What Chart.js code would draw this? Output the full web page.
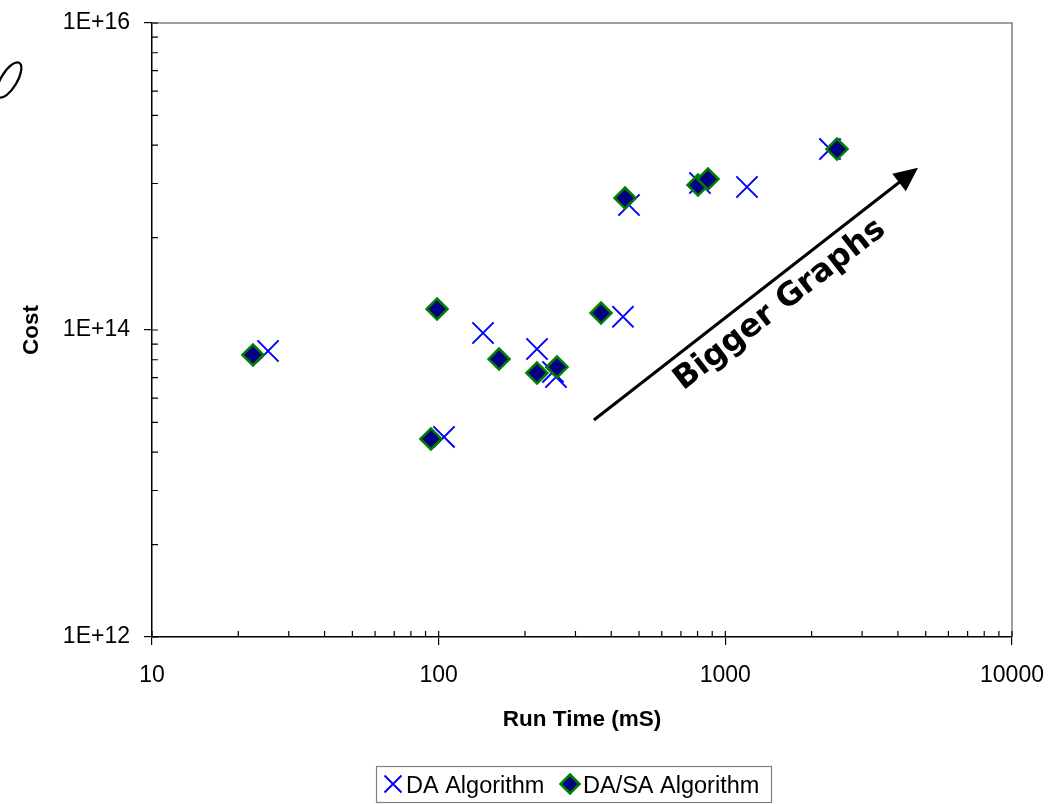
<!DOCTYPE html>
<html>
<head>
<meta charset="utf-8">
<script src="https://cdn.jsdelivr.net/npm/chart.js@4.4.1/dist/chart.umd.min.js"></script>
<style>
  html, body { margin: 0; padding: 0; background: #ffffff; }
  #wrap { width: 1063px; height: 804px; position: relative; }
</style>
</head>
<body>
<div id="wrap"><canvas id="c" width="1063" height="804"></canvas></div>
<script>
// ---- data ----
const seriesNames = ['DA Algorithm', 'DA/SA Algorithm'];

const daRunTime = [25.4, 104.4, 142.8, 220.3, 250.5, 256.6, 439.5, 461.3, 815.7, 1190, 2318];
const daCost    = [7.30e13, 2.01e13, 9.56e13, 7.52e13, 5.33e13, 4.94e13, 1.22e14, 6.52e14, 9.07e14, 8.54e14, 1.51e15];

const dasaRunTime = [22.5, 94.0, 98.7, 162.4, 220.3, 258.7, 368.4, 446.7, 802.8, 869.9, 2452];
const dasaCost    = [6.88e13, 1.95e13, 1.37e14, 6.47e13, 5.25e13, 5.74e13, 1.29e14, 7.24e14, 8.80e14, 9.63e14, 1.51e15];

const xTicks      = [10, 100, 1000, 10000];
const xTickLabels = ['10', '100', '1000', '10000'];
const xMinorTicks = [20,30,40,50,60,70,80,90, 200,300,400,500,600,700,800,900, 2000,3000,4000,5000,6000,7000,8000,9000];

const yTicks      = [1e12, 1e14, 1e16];
const yTickLabels = ['1E+12', '1E+14', '1E+16'];
const yMinorTicks = [4e12, 9e12, 1.6e13, 2.5e13, 3.6e13, 4.9e13, 6.4e13, 8.1e13,
                     4e14, 9e14, 1.6e15, 2.5e15, 3.6e15, 4.9e15, 6.4e15, 8.1e15];

const xTitle = 'Run Time (mS)';
const yTitle = 'Cost';

const annotationText = 'Bigger Graphs';
const arrowFrom  = [348, 2.59e13];
const arrowTo    = [4700, 1.14e15];
const textAnchor = [1551, 1.455e14];

// ---- helpers ----
function toPoints(xs, ys) { return xs.map((v, i) => ({ x: v, y: ys[i] })); }

function drawCross(ctx, cx, cy, r, color, lw) {
  ctx.save();
  ctx.strokeStyle = color; ctx.lineWidth = lw;
  ctx.beginPath();
  ctx.moveTo(cx - r, cy - r); ctx.lineTo(cx + r, cy + r);
  ctx.moveTo(cx - r, cy + r); ctx.lineTo(cx + r, cy - r);
  ctx.stroke();
  ctx.restore();
}
function drawDiamond(ctx, cx, cy, r, fill, stroke, lw) {
  ctx.save();
  ctx.beginPath();
  ctx.moveTo(cx, cy - r); ctx.lineTo(cx + r, cy); ctx.lineTo(cx, cy + r); ctx.lineTo(cx - r, cy); ctx.closePath();
  ctx.fillStyle = fill; ctx.fill();
  ctx.strokeStyle = stroke; ctx.lineWidth = lw; ctx.stroke();
  ctx.restore();
}

const decor = {
  id: 'decor',
  beforeDatasetsDraw(chart) {
    const { ctx, chartArea: a, scales: { x, y } } = chart;
    ctx.save();
    // grey frame top / right
    ctx.strokeStyle = '#808080'; ctx.lineWidth = 1.5;
    ctx.beginPath();
    ctx.moveTo(a.left, a.top); ctx.lineTo(a.right, a.top); ctx.lineTo(a.right, a.bottom);
    ctx.stroke();
    // inward ticks
    ctx.strokeStyle = '#000'; ctx.lineWidth = 1.2;
    ctx.beginPath();
    xMinorTicks.concat(xTicks).forEach(v => {
      const px = x.getPixelForValue(v);
      ctx.moveTo(px, a.bottom); ctx.lineTo(px, a.bottom - 6);
    });
    yMinorTicks.concat(yTicks).forEach(v => {
      const py = y.getPixelForValue(v);
      ctx.moveTo(a.left, py); ctx.lineTo(a.left + 6, py);
    });
    ctx.stroke();
    ctx.restore();
  },
  afterDraw(chart) {
    const { ctx, scales: { x, y } } = chart;
    ctx.save();
    // arrow
    const x0 = x.getPixelForValue(arrowFrom[0]), y0 = y.getPixelForValue(arrowFrom[1]);
    const x1 = x.getPixelForValue(arrowTo[0]),   y1 = y.getPixelForValue(arrowTo[1]);
    const ang = Math.atan2(y1 - y0, x1 - x0);
    const headLen = 24, headHalf = 11;
    const bx = x1 - headLen * Math.cos(ang), by = y1 - headLen * Math.sin(ang);
    ctx.strokeStyle = '#000'; ctx.lineWidth = 3;
    ctx.beginPath(); ctx.moveTo(x0, y0); ctx.lineTo(bx + 2 * Math.cos(ang), by + 2 * Math.sin(ang)); ctx.stroke();
    ctx.fillStyle = '#000';
    ctx.beginPath();
    ctx.moveTo(x1, y1);
    ctx.lineTo(bx - headHalf * Math.sin(ang), by + headHalf * Math.cos(ang));
    ctx.lineTo(bx + headHalf * Math.sin(ang), by - headHalf * Math.cos(ang));
    ctx.closePath(); ctx.fill();
    // rotated label
    const tx = x.getPixelForValue(textAnchor[0]), ty = y.getPixelForValue(textAnchor[1]);
    ctx.translate(tx, ty); ctx.rotate(ang);
    ctx.font = 'bold 32px "DejaVu Sans"';
    ctx.textAlign = 'center'; ctx.textBaseline = 'middle';
    ctx.fillText(annotationText, 0, 0);
    ctx.restore();

    // stray hand-drawn loop at top-left
    ctx.save();
    ctx.strokeStyle = '#000'; ctx.lineWidth = 2.2;
    ctx.beginPath();
    ctx.ellipse(9, 80, 20, 8, -1.03, 0, Math.PI * 2);
    ctx.stroke();
    ctx.restore();

    // legend
    ctx.save();
    ctx.strokeStyle = '#808080'; ctx.lineWidth = 1.2;
    ctx.strokeRect(376.5, 766.5, 395, 36);
    const ds = chart.data.datasets;
    drawCross(ctx, 393, 784, 8.5, ds[0].borderColor, 2);
    drawDiamond(ctx, 570, 784, 9.5, ds[1].backgroundColor, ds[1].borderColor, 2.5);
    ctx.fillStyle = '#000';
    ctx.font = '23.5px "Liberation Sans", Arial, sans-serif';
    ctx.textAlign = 'left'; ctx.textBaseline = 'alphabetic';
    ctx.fillText(ds[0].label, 406, 793);
    ctx.fillText(ds[1].label, 583, 793);
    ctx.restore();
  }
};

const tickFont = { family: '"Liberation Sans", Arial, sans-serif', size: 23 };
const titleFont = { family: '"Liberation Sans", Arial, sans-serif', size: 22.5, weight: 'bold' };

new Chart(document.getElementById('c'), {
  type: 'scatter',
  data: {
    datasets: [
      {
        label: seriesNames[0],
        data: toPoints(daRunTime, daCost),
        pointStyle: 'crossRot',
        pointRadius: 15,
        pointHoverRadius: 15,
        borderColor: '#0000FF',
        backgroundColor: '#0000FF',
        borderWidth: 2,
        order: 1
      },
      {
        label: seriesNames[1],
        data: toPoints(dasaRunTime, dasaCost),
        pointStyle: 'rectRot',
        pointRadius: 10.5,
        pointHoverRadius: 10.5,
        borderColor: '#008000',
        backgroundColor: '#000080',
        borderWidth: 2.5,
        order: 0
      }
    ]
  },
  options: {
    responsive: false,
    animation: false,
    events: [],
    layout: { padding: { top: 23, right: 51, left: 0, bottom: 0 } },
    plugins: {
      legend: { display: false },
      tooltip: { enabled: false }
    },
    scales: {
      x: {
        type: 'logarithmic',
        min: 10, max: 10000,
        afterBuildTicks: s => { s.ticks = xTicks.map(v => ({ value: v })); },
        afterFit: s => { s.height = 167; s.paddingLeft = 0; s.paddingRight = 0; },
        ticks: {
          color: '#000', font: tickFont, padding: 17, maxRotation: 0, autoSkip: false,
          callback: (v, i) => xTickLabels[i]
        },
        grid: { display: true, drawOnChartArea: false, drawTicks: true, tickLength: 8, color: '#000', lineWidth: 1.2 },
        border: { display: true, color: '#000', width: 1.5 },
        title: { display: true, text: xTitle, color: '#000', font: titleFont, padding: { top: 0, bottom: 71 } }
      },
      y: {
        type: 'logarithmic',
        min: 1e12, max: 1e16,
        afterBuildTicks: s => { s.ticks = yTicks.map(v => ({ value: v })); },
        afterFit: s => { s.width = 152; s.paddingTop = 0; s.paddingBottom = 0; },
        ticks: {
          color: '#000', font: tickFont, padding: 14, autoSkip: false,
          callback: (v, i) => yTickLabels[i]
        },
        grid: { display: true, drawOnChartArea: false, drawTicks: true, tickLength: 8, color: '#000', lineWidth: 1.2 },
        border: { display: true, color: '#000', width: 1.5 },
        title: { display: true, text: yTitle, color: '#000', font: titleFont, padding: { top: 18, bottom: 0 } }
      }
    }
  },
  plugins: [decor]
});
</script>
</body>
</html>
